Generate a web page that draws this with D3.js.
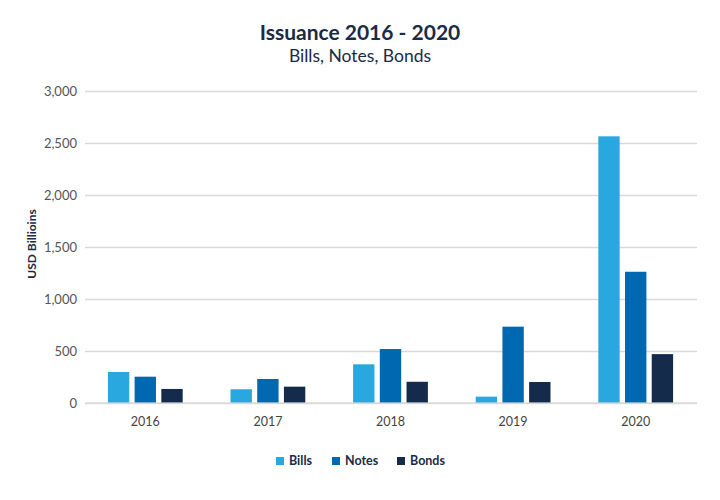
<!DOCTYPE html>
<html>
<head>
<meta charset="utf-8">
<script src="https://cdn.jsdelivr.net/npm/d3@7"></script>
<style>
    body { margin: 0; background: #fff; }
    text { font-family: Lato, "Open Sans", sans-serif; }
</style>
</head>
<body>
<div id="chart"></div>
<script>
// Data
const years = ["2016", "2017", "2018", "2019", "2020"];
const seriesNames = ["Bills", "Notes", "Bonds"];
const bills = [298, 132, 372, 61, 2564];
const notes = [253, 231, 519, 734, 1262];
const bonds = [135, 157, 204, 202, 470];
const yTicks = [0, 500, 1000, 1500, 2000, 2500, 3000];
const colors = ["#29a8e0", "#0068b1", "#142b4c"];

const series = [bills, notes, bonds];
const rows = years.map((yr, i) => ({year: yr, values: series.map(s => s[i])}));

const width = 720, height = 500;

const svg = d3.select("#chart").append("svg")
    .attr("width", width)
    .attr("height", height);

// Title
svg.append("text")
    .attr("x", 360).attr("y", 40)
    .attr("text-anchor", "middle")
    .attr("font-size", 21).attr("font-weight", "bold")
    .attr("fill", "#1b2a47")
    .text("Issuance 2016 - 2020");

svg.append("text")
    .attr("x", 360).attr("y", 62)
    .attr("text-anchor", "middle")
    .attr("font-size", 17.5)
    .attr("fill", "#1b2a47")
    .text("Bills, Notes, Bonds");

// Scales
let x0 = d3.scaleBand()
    .domain(years)
    .range([84, 697])
    .paddingInner(0.39)
    .paddingOuter(0.195);

let x1 = d3.scaleBand()
    .domain(seriesNames)
    .range([0, x0.bandwidth()])
    .paddingInner(0.2);

let y = d3.scaleLinear()
    .domain([0, 3000])
    .range([403, 91]);

// Grid + y labels
let yAxis = d3.axisLeft(y)
    .tickValues(yTicks)
    .tickSize(-(697 - 85))
    .tickPadding(8)
    .tickFormat(d3.format(","));

svg.append("g")
    .attr("class", "y-axis")
    .attr("transform", "translate(85,0)")
    .call(yAxis)
    .call(g => g.select(".domain").remove())
    .call(g => g.selectAll(".tick line").attr("stroke", "#d9d9d9").attr("stroke-width", 1.5))
    .call(g => g.selectAll(".tick text").attr("fill", "#555").attr("font-size", 13));

// Bars
svg.append("g")
    .selectAll("g")
    .data(rows)
    .join("g")
    .attr("transform", d => "translate(" + x0(d.year) + ",0)")
    .selectAll("rect")
    .data(d => d.values.map((v, i) => ({name: seriesNames[i], value: v, color: colors[i]})))
    .join("rect")
    .attr("x", d => x1(d.name))
    .attr("width", x1.bandwidth())
    .attr("y", d => y(d.value))
    .attr("height", d => y(0) - y(d.value))
    .attr("fill", d => d.color);

// baseline over the bars
svg.append("line")
    .attr("x1", 85).attr("x2", 697)
    .attr("y1", y(0)).attr("y2", y(0))
    .attr("stroke", "#d9d9d9")
    .attr("stroke-opacity", 0.8)
    .attr("stroke-width", 1.5);

// x labels
let xAxis = d3.axisBottom(x0).tickSize(0).tickPadding(14);
svg.append("g")
    .attr("transform", "translate(0," + y(0) + ")")
    .call(xAxis)
    .call(g => g.select(".domain").remove())
    .call(g => g.selectAll(".tick text").attr("fill", "#444").attr("font-size", 12.5));

// y title
svg.append("text")
    .attr("transform", "translate(36,244) rotate(-90)")
    .attr("text-anchor", "middle")
    .attr("font-size", 12).attr("font-weight", "bold")
    .attr("fill", "#1b2a47")
    .text("USD Billioins");

// Legend
const legendX = [276, 332, 397];
let legend = svg.append("g")
    .selectAll("g")
    .data(seriesNames)
    .join("g")
    .attr("transform", (d, i) => "translate(" + legendX[i] + ",457)");

legend.append("rect")
    .attr("width", 8).attr("height", 8)
    .attr("fill", (d, i) => colors[i]);

legend.append("text")
    .attr("x", 13).attr("y", 8)
    .attr("font-size", 12.5).attr("font-weight", "bold")
    .attr("fill", "#1b2a47")
    .text(d => d);
</script>
</body>
</html>
